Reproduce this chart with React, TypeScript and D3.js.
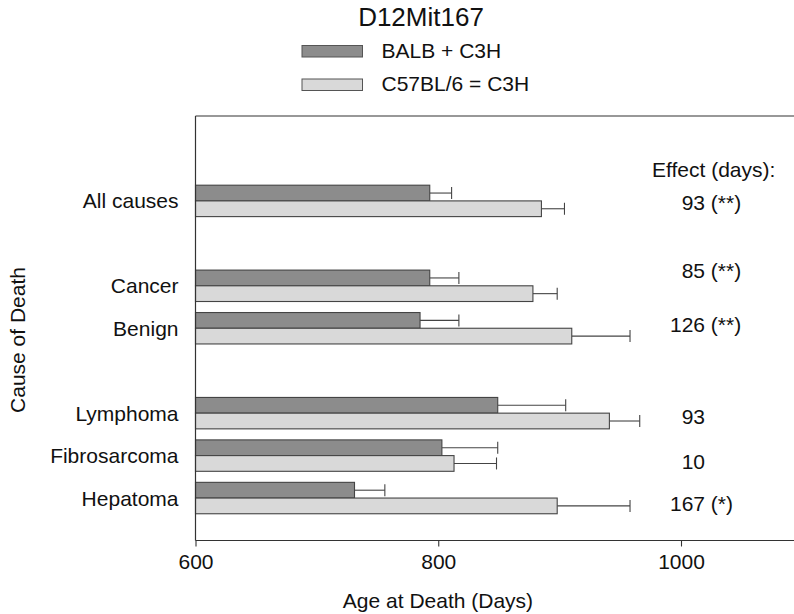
import { useEffect, useRef } from 'react'
import * as d3 from 'd3'

const W = 794
const H = 614
const FONT = '"Liberation Sans", Arial, Helvetica, sans-serif'

// data
const causes = ['All causes', 'Cancer', 'Benign', 'Lymphoma', 'Fibrosarcoma', 'Hepatoma']
const causeGroup = [0, 1, 1, 2, 2, 2]
const balbMean = [793, 793, 785, 849, 803, 731]
const balbErr = [18, 24, 32, 56, 46, 25]
const c57Mean = [885, 878, 910, 941, 813, 898]
const c57Err = [19, 20, 48, 25, 35, 60]
const effectDays = [93, 85, 126, 93, 10, 167]
const effectSig = ['(**)', '(**)', '(**)', '', '', '(*)']
const xTicks = [600, 800, 1000]
const seriesNames = ['BALB + C3H', 'C57BL/6 = C3H']
const seriesFill = ['#8c8c8c', '#d9d9d9']

export default function App() {
  const svgRef = useRef<SVGSVGElement>(null)

  useEffect(() => {
    const svg = d3.select(svgRef.current)
    svg.selectAll('*').remove()

    const left = 195.5
    const top = 116
    const bottom = 540.5

    const x = d3.scaleLinear().domain([600, 1100]).range([left, left + 500 * (485.5 / 400)])
    // one blank row between groups, two blank rows on top, one below
    const y = d3.scaleLinear().domain([-2, 8]).range([top, bottom])
    const step = y(1) - y(0)
    const barH = step * 0.37
    const slot = (i: number) => i + causeGroup[i]

    const textStyle = (sel: any, size = 21) =>
      sel.attr('font-family', FONT).attr('font-size', size).attr('fill', '#111')

    // title
    textStyle(svg.append('text'), 26)
      .attr('x', 421).attr('y', 26).attr('text-anchor', 'middle')
      .text('D12Mit167')

    // legend
    seriesNames.forEach((name, k) => {
      const ly = 45.5 + k * 33.5
      svg.append('rect')
        .attr('x', 302).attr('y', ly).attr('width', 60.5).attr('height', 11.5)
        .attr('fill', seriesFill[k]).attr('stroke', '#555').attr('stroke-width', 1)
      textStyle(svg.append('text'))
        .attr('x', 381.5).attr('y', ly + 12.3)
        .text(name)
    })

    const g = svg.append('g')

    // bars + error bars
    causes.forEach((c, i) => {
      const yc = y(slot(i))
      const series = [
        { mean: balbMean[i], err: balbErr[i], y0: yc - barH, fill: seriesFill[0] },
        { mean: c57Mean[i], err: c57Err[i], y0: yc, fill: seriesFill[1] },
      ]
      series.forEach(s => {
        const cy = s.y0 + barH / 2
        g.append('line')
          .attr('x1', x(s.mean)).attr('x2', x(s.mean + s.err))
          .attr('y1', cy).attr('y2', cy)
          .attr('stroke', '#444').attr('stroke-width', 1.1)
        g.append('line')
          .attr('x1', x(s.mean + s.err)).attr('x2', x(s.mean + s.err))
          .attr('y1', cy - 6).attr('y2', cy + 6)
          .attr('stroke', '#444').attr('stroke-width', 1.1)
        g.append('rect')
          .attr('x', x(600)).attr('y', s.y0)
          .attr('width', x(s.mean) - x(600)).attr('height', barH)
          .attr('fill', s.fill).attr('stroke', '#444').attr('stroke-width', 1.1)
      })

      // category label
      textStyle(g.append('text'))
        .attr('x', 178.5).attr('y', yc).attr('dy', '0.36em')
        .attr('text-anchor', 'end')
        .text(c)
    })

    // effect column
    textStyle(svg.append('text'))
      .attr('x', 652).attr('y', y(-0.75)).attr('dy', '0.36em')
      .text('Effect (days):')

    // effect labels are not exactly on their rows in the original
    const effectNudge = [0.04, -0.36, -0.09, 0.08, 0.14, 0.12]
    effectDays.forEach((d, i) => {
      const ly = y(slot(i) + effectNudge[i])
      textStyle(svg.append('text'))
        .attr('x', 705).attr('y', ly).attr('dy', '0.36em')
        .attr('text-anchor', 'end')
        .text(d)
      if (effectSig[i]) {
        textStyle(svg.append('text'))
          .attr('x', 705).attr('y', ly).attr('dy', '0.36em')
          .text('\u00a0' + effectSig[i])
      }
    })

    // frame
    svg.append('line')
      .attr('x1', left).attr('x2', W).attr('y1', top).attr('y2', top)
      .attr('stroke', '#333').attr('stroke-width', 1.2)
    svg.append('line')
      .attr('x1', left).attr('x2', left).attr('y1', top).attr('y2', bottom)
      .attr('stroke', '#333').attr('stroke-width', 1.2)
    svg.append('line')
      .attr('x1', left).attr('x2', W).attr('y1', bottom).attr('y2', bottom)
      .attr('stroke', '#333').attr('stroke-width', 1.2)

    // x axis
    const xAxis = d3.axisBottom(x)
      .tickValues(xTicks)
      .tickFormat(d3.format('d'))
      .tickSize(6)
      .tickPadding(8)
    svg.append('g')
      .attr('transform', `translate(0,${bottom})`)
      .call(xAxis)
      .call(ax => ax.select('.domain').remove())
      .call(ax => ax.selectAll('line').attr('stroke', '#333').attr('stroke-width', 1.1))
      .call(ax => ax.selectAll('text')
        .attr('font-size', 21)
        .attr('fill', '#111')
        .attr('font-family', FONT))

    // axis titles
    textStyle(svg.append('text'))
      .attr('x', 438).attr('y', 608).attr('text-anchor', 'middle')
      .text('Age at Death (Days)')
    textStyle(svg.append('text'))
      .attr('transform', 'translate(24.5,340) rotate(-90)')
      .attr('text-anchor', 'middle')
      .text('Cause of Death')
  }, [])

  return (
    <svg
      ref={svgRef}
      width={W}
      height={H}
      style={{ position: 'absolute', left: 0, top: 0, background: '#fff' }}
    />
  )
}
